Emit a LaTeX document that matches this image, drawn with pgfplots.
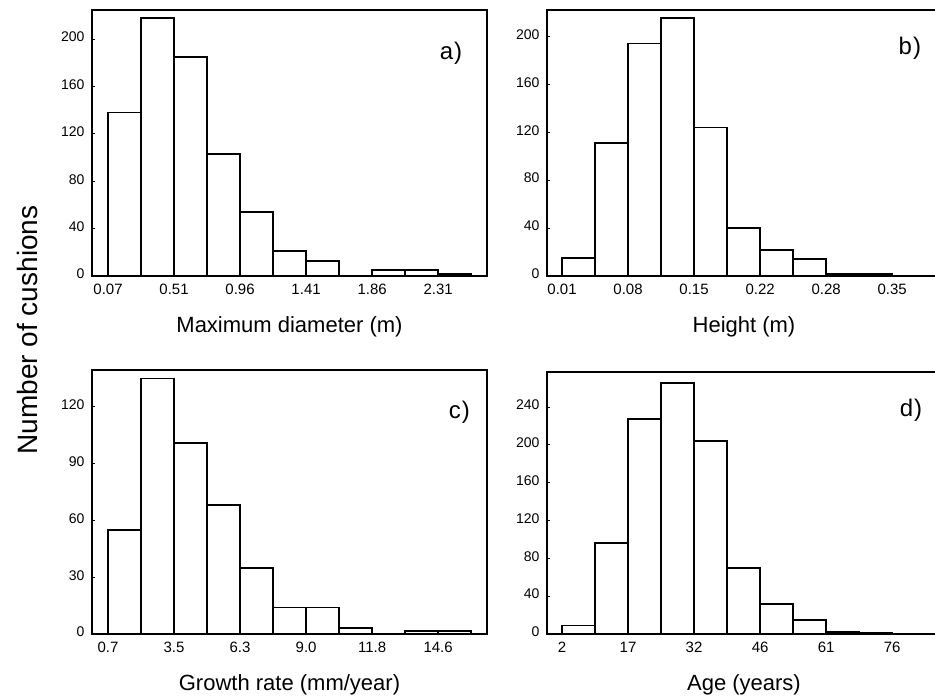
\documentclass[border=0pt]{standalone}
\usepackage{fontspec}
\setmainfont{Liberation Sans}
\usepackage{pgfplots}
\pgfplotsset{compat=1.18}

\pgfplotsset{
  hist/.style={
    scale only axis,
    anchor=south west,
    ymin=0,
    axis line style={line width=1.8pt},
    xtick={0,2,4,6,8,10},
    xtick style={draw=none},
    ytick style={line width=0.9pt, black},
    ytick pos=left,
    tick align=inside,
    major tick length=3pt,
    typeset ticklabels with strut,
    xticklabel style={font=\fontsize{15}{15}\selectfont, yshift=-4pt},
    yticklabel style={font=\fontsize{14}{14}\selectfont, xshift=-4pt},
    /pgf/number format/assume math mode=true,
    xlabel style={font=\fontsize{22}{22}\selectfont, at={(axis description cs:0.5,0)}, anchor=center, yshift=-51pt},
    clip=false,
  },
  bars/.style={ybar interval, fill=white, draw=black, line width=1.8pt},
}
\tikzset{plab/.style={font=\fontsize{24}{24}\selectfont}}

\begin{document}
\begin{tikzpicture}
\useasboundingbox (0,0) rectangle (935pt,-699pt);

% a) Maximum diameter
\begin{axis}[hist, at={(92pt,-276pt)}, width=395pt, height=266pt,
  xmin=-0.485, xmax=11.48, ymax=224.5, ytick={0,40,80,120,160,200},
  xticklabels={0.07,0.51,0.96,1.41,1.86,2.31},
  xlabel={Maximum diameter (m)}]
\addplot[bars] coordinates {(0,138) (1,218) (2,185) (3,103) (4,54) (5,21) (6,13) (7,0) (8,5) (9,5) (10,2) (11,0)};
\node[plab] at (rel axis cs:0.909,0.838) {a\kern1pt)};
\end{axis}

% b) Height
\begin{axis}[hist, at={(547pt,-276pt)}, width=394pt, height=266pt,
  xmin=-0.455, xmax=11.48, ymax=222, ytick={0,40,80,120,160,200},
  xticklabels={0.01,0.08,0.15,0.22,0.28,0.35},
  xlabel={Height (m)}]
\addplot[bars] coordinates {(0,15) (1,111) (2,194) (3,215) (4,124) (5,40) (6,22) (7,14) (8,2) (9,1.5) (10,0.5) (11,0)};
\node[plab] at (rel axis cs:0.921,0.857) {b\kern1pt)};
\end{axis}

% c) Growth rate
\begin{axis}[hist, at={(92pt,-634pt)}, width=395pt, height=264pt,
  xmin=-0.485, xmax=11.48, ymax=139.5, ytick={0,30,60,90,120},
  xticklabels={0.7,3.5,6.3,9.0,11.8,14.6},
  xlabel={Growth rate (mm/year)}]
\addplot[bars] coordinates {(0,55) (1,135) (2,101) (3,68) (4,35) (5,14) (6,14) (7,3) (8,0) (9,1.5) (10,1.5) (11,0)};
\node[plab] at (rel axis cs:0.93,0.84) {c\kern1pt)};
\end{axis}

% d) Age
\begin{axis}[hist, at={(547pt,-634pt)}, width=394pt, height=262pt,
  xmin=-0.455, xmax=11.48, ymax=277, ytick={0,40,80,120,160,200,240},
  xticklabels={2,17,32,46,61,76},
  xlabel={Age (years)}]
\addplot[bars] coordinates {(0,9) (1,96) (2,227) (3,265) (4,204) (5,70) (6,32) (7,15) (8,2) (9,1.5) (10,0.5) (11,0)};
\node[plab] at (rel axis cs:0.924,0.855) {d\kern1pt)};
\end{axis}

\node[rotate=90, font=\fontsize{28}{28}\selectfont] at (27pt,-330pt) {Number of cushions};
\end{tikzpicture}
\end{document}
